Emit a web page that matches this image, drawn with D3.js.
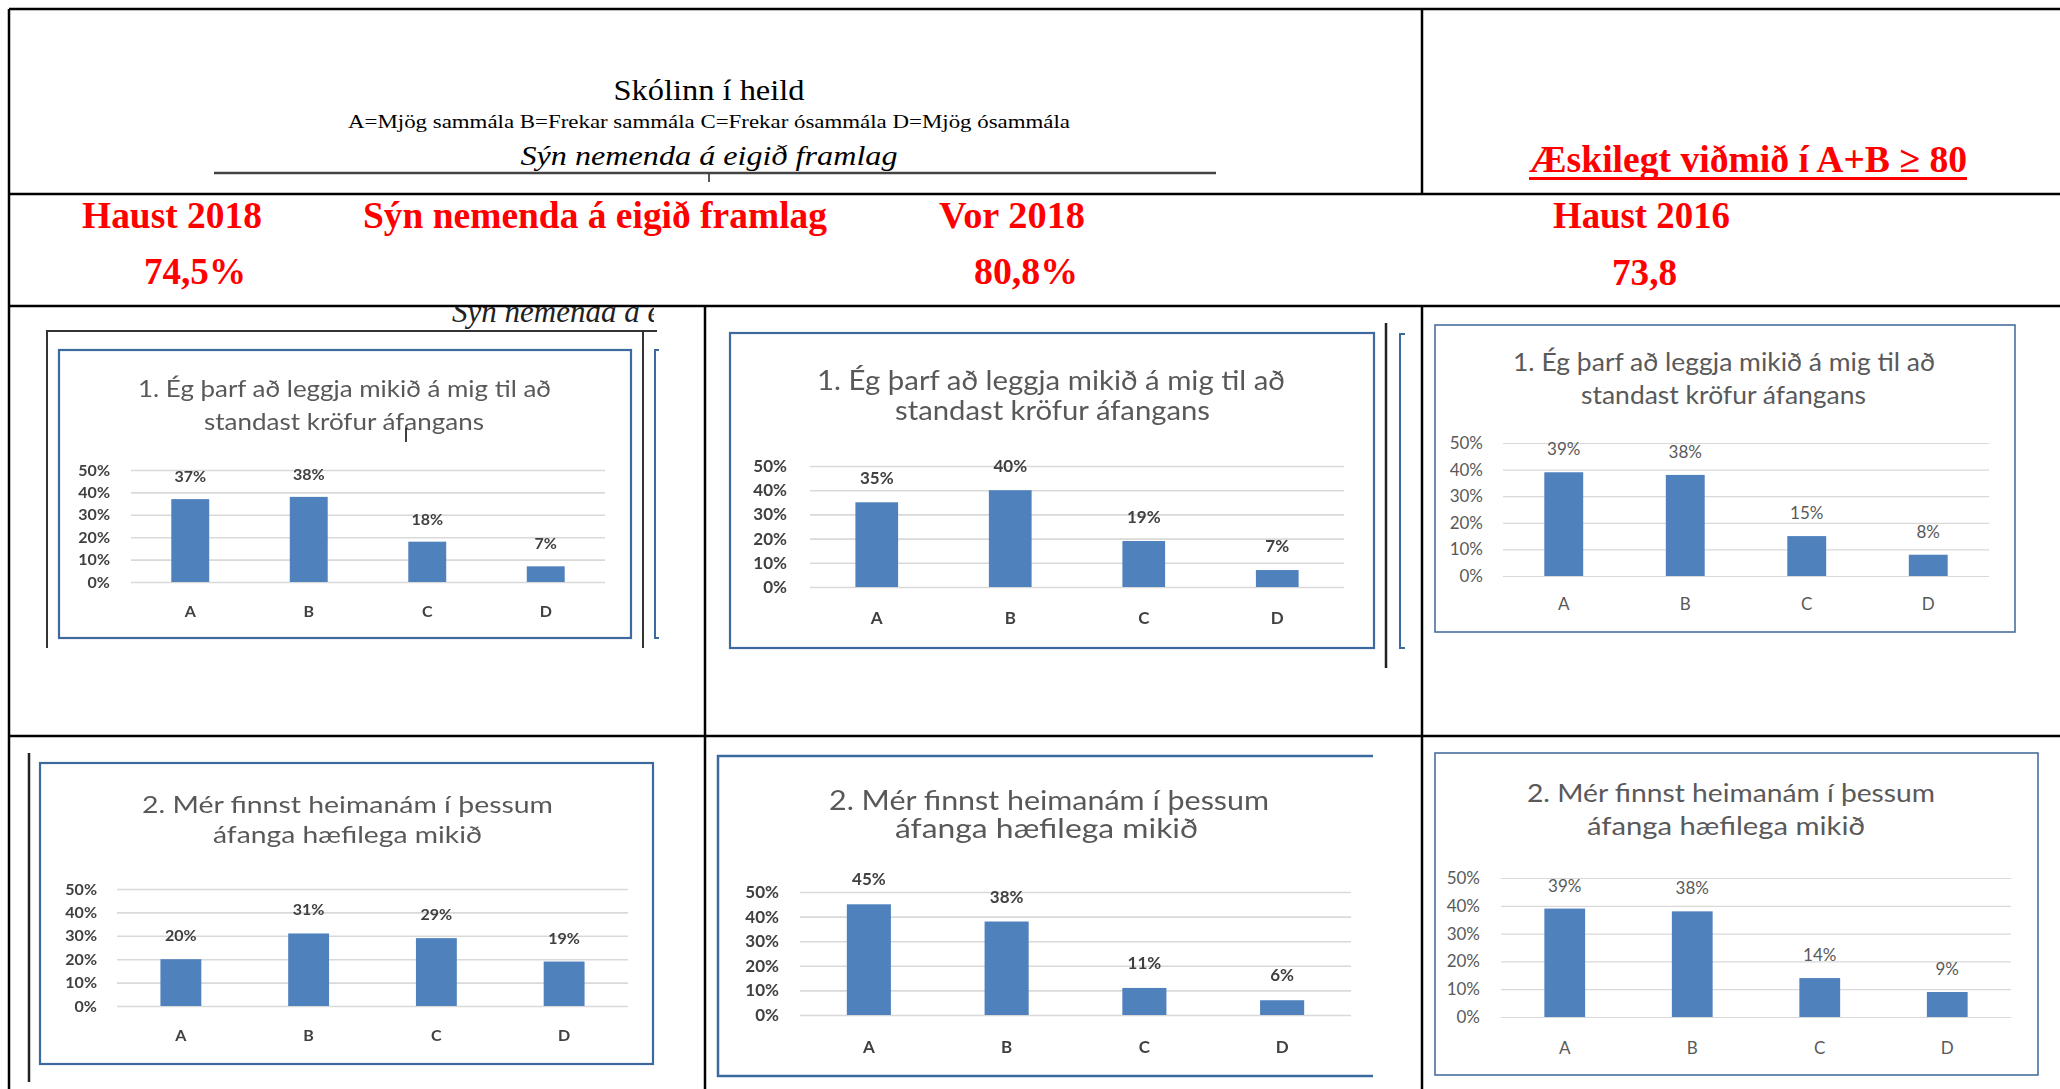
<!DOCTYPE html>
<html><head><meta charset="utf-8">
<script src="https://cdn.jsdelivr.net/npm/d3@7"></script>
<style>html,body{margin:0;padding:0;background:#fff;} svg{display:block;}</style>
</head><body>
<svg id="chart" width="2060" height="1089"></svg>
<script>
// ---------- data ----------
const categories = ["A", "B", "C", "D"];
const yTicks = [0, 10, 20, 30, 40, 50];
const q1Haust2018 = [37, 38, 18, 7];
const q1Vor2018 = [35, 40, 19, 7];
const q1Haust2016 = [39, 38, 15, 8];
const q2Haust2018 = [20, 31, 29, 19];
const q2Vor2018 = [45, 38, 11, 6];
const q2Haust2016 = [39, 38, 14, 9];
const q1Title = ["1. Ég þarf að leggja mikið á mig til að", "standast kröfur áfangans"];
const q2Title = ["2. Mér finnst heimanám í þessum", "áfanga hæfilega mikið"];
const headerTitle = "Skólinn í heild";
const headerLegend = "A=Mjög sammála B=Frekar sammála C=Frekar ósammála D=Mjög ósammála";
const headerTopic = "Sýn nemenda á eigið framlag";
const targetText = "Æskilegt viðmið í A+B ≥ 80";
const terms = ["Haust 2018", "Vor 2018", "Haust 2016"];
const termScores = ["74,5%", "80,8%", "73,8"];

// ---------- layout ----------
const svg = d3.select("#chart");
const defs = svg.append("defs");
defs.append("filter").attr("id", "soft").attr("x", "-5%").attr("y", "-5%").attr("width", "110%").attr("height", "110%")
  .append("feGaussianBlur").attr("stdDeviation", 0.45);
defs.append("clipPath").attr("id", "cutText").append("rect").attr("x", 440).attr("y", 307).attr("width", 214).attr("height", 40);

const serif = "'Liberation Serif', 'Times New Roman', serif";
const sans = "Lato, 'Open Sans', sans-serif";
const red = "#ff0000";

// table lines
const tbl = svg.append("g").attr("stroke", "#000").attr("stroke-width", 2.5);
const hLines = [[9, 9, 2060], [194, 9, 2060], [306, 9, 2060], [736, 9, 2060]];
hLines.forEach(([y, x1, x2]) => tbl.append("line").attr("x1", x1).attr("x2", x2).attr("y1", y).attr("y2", y));
const vLines = [[9, 9, 1089], [1422, 9, 194], [705, 306, 1089], [1422, 306, 1089]];
vLines.forEach(([x, y1, y2]) => tbl.append("line").attr("x1", x).attr("x2", x).attr("y1", y1).attr("y2", y2));

// header text helper
function txt(g, s, x, y, size, opts = {}) {
  const t = g.append("text").attr("x", x).attr("y", y).text(s)
    .attr("font-family", opts.family || serif).attr("font-size", size)
    .attr("fill", opts.fill || "#000")
    .attr("font-weight", opts.weight || 400)
    .attr("font-style", opts.style || "normal")
    .attr("text-anchor", opts.anchor || "start");
  if (opts.len) t.attr("textLength", opts.len).attr("lengthAdjust", "spacingAndGlyphs");
  return t;
}
const head = svg.append("g");
txt(head, headerTitle, 709, 100, 30, {anchor: "middle", len: 191});
txt(head, headerLegend, 709, 128, 19, {anchor: "middle", len: 722});
txt(head, headerTopic, 709, 165, 28, {anchor: "middle", len: 377, style: "italic"});
head.append("line").attr("x1", 214).attr("x2", 1216).attr("y1", 173).attr("y2", 173).attr("stroke", "#444").attr("stroke-width", 2.5);
head.append("line").attr("x1", 709).attr("x2", 709).attr("y1", 174).attr("y2", 182).attr("stroke", "#222").attr("stroke-width", 1.5);
txt(head, targetText, 1529, 172, 37, {fill: red, weight: 700, len: 438});
head.append("line").attr("x1", 1529).attr("x2", 1967).attr("y1", 178.5).attr("y2", 178.5).attr("stroke", red).attr("stroke-width", 3);

// red term headers
txt(head, terms[0], 82, 228, 37, {fill: red, weight: 700, len: 180});
txt(head, headerTopic, 363, 228, 37, {fill: red, weight: 700, len: 464});
txt(head, terms[1], 939, 228, 37, {fill: red, weight: 700, len: 146});
txt(head, terms[2], 1553, 228, 37, {fill: red, weight: 700, len: 177});
txt(head, termScores[0], 144, 284, 37, {fill: red, weight: 700, len: 102});
txt(head, termScores[1], 974, 284, 37, {fill: red, weight: 700, len: 104});
txt(head, termScores[2], 1612, 285, 37, {fill: red, weight: 700, len: 65});

// stray pasted-screenshot fragments
const frag = svg.append("g").attr("fill", "none");
txt(svg.append("g").attr("clip-path", "url(#cutText)"), headerTopic, 452, 322, 31, {style: "italic", fill: "#222"});
frag.append("path").attr("d", "M47,648 V331 H657").attr("stroke", "#333").attr("stroke-width", 2);
frag.append("line").attr("x1", 643).attr("x2", 643).attr("y1", 331).attr("y2", 648).attr("stroke", "#333").attr("stroke-width", 2);
frag.append("path").attr("d", "M659,350 H655 V638 H659").attr("stroke", "#3d6a9e").attr("stroke-width", 2);
frag.append("line").attr("x1", 1386).attr("x2", 1386).attr("y1", 323).attr("y2", 668).attr("stroke", "#222").attr("stroke-width", 2.5);
frag.append("path").attr("d", "M1405,334 H1400 V648 H1405").attr("stroke", "#3d6a9e").attr("stroke-width", 2);
frag.append("line").attr("x1", 29).attr("x2", 29).attr("y1", 753).attr("y2", 1082).attr("stroke", "#222").attr("stroke-width", 2.5);

// ---------- panels ----------
const panels = [
  {values: q1Haust2018, title: q1Title, kind: "soft", box: [59, 350, 631, 638], plotX: [131, 605], plotY: [582, 470],
   titles: [[344.5, 397, 413], [344, 430, 280]], titleSize: 24, tickRight: 110, labelSize: 16, gap: 17, catBase: 617, cursor: [406, 428, 442]},
  {values: q1Vor2018, title: q1Title, kind: "soft", box: [730, 333, 1374, 648], plotX: [810, 1344], plotY: [587, 466],
   titles: [[1051, 390, 468], [1052.5, 420, 315]], titleSize: 26, tickRight: 787, labelSize: 17, gap: 18, catBase: 624},
  {values: q1Haust2016, title: q1Title, kind: "crisp", box: [1435, 325, 2015, 632], plotX: [1503, 1989], plotY: [576, 443],
   titles: [[1724, 371, 422], [1723.5, 404, 285]], titleSize: 25, tickRight: 1483, labelSize: 17, gap: 17, catBase: 610},
  {values: q2Haust2018, title: q2Title, kind: "soft", box: [40, 763, 653, 1064], plotX: [117, 628], plotY: [1006, 889],
   titles: [[347.5, 813, 411], [347.5, 843, 269]], titleSize: 24, tickRight: 97, labelSize: 16, gap: 18, catBase: 1041},
  {values: q2Vor2018, title: q2Title, kind: "soft", box: [718, 756, 1373, 1076], open: true, plotX: [800, 1351], plotY: [1015, 892],
   titles: [[1049, 810, 440], [1046.5, 838, 303]], titleSize: 26, tickRight: 779, labelSize: 17, gap: 19, catBase: 1053},
  {values: q2Haust2016, title: q2Title, kind: "crisp", box: [1435, 753, 2038, 1075], plotX: [1501, 2011], plotY: [1017, 878],
   titles: [[1731, 802, 408], [1726, 835, 278]], titleSize: 25, tickRight: 1480, labelSize: 17, gap: 17, catBase: 1054}
];

panels.forEach(p => {
  const soft = p.kind === "soft";
  const g = svg.append("g");
  if (soft) g.attr("filter", "url(#soft)");
  const textCol = soft ? "#404040" : "#595959";
  const [bx1, by1, bx2, by2] = p.box;
  // frame
  if (p.open) {
    g.append("path").attr("d", `M${bx2},${by1} H${bx1} V${by2} H${bx2}`).attr("fill", "none")
      .attr("stroke", "#3d6a9e").attr("stroke-width", 2.5);
  } else {
    g.append("rect").attr("x", bx1).attr("y", by1).attr("width", bx2 - bx1).attr("height", by2 - by1)
      .attr("fill", "none").attr("stroke", soft ? "#3d6a9e" : "#4a6f9e").attr("stroke-width", soft ? 2.2 : 1.6);
  }
  // title
  p.title.forEach((line, i) => {
    const [cx, by, len] = p.titles[i];
    g.append("text").attr("x", cx).attr("y", by).text(line)
      .attr("font-family", sans).attr("font-size", p.titleSize).attr("fill", "#595959")
      .attr("text-anchor", "middle").attr("textLength", len).attr("lengthAdjust", "spacingAndGlyphs");
  });
  if (p.cursor) {
    g.append("line").attr("x1", p.cursor[0]).attr("x2", p.cursor[0]).attr("y1", p.cursor[1]).attr("y2", p.cursor[2])
      .attr("stroke", "#000").attr("stroke-width", 1.5);
  }
  // scales
  const x = d3.scaleBand().domain(categories).range(p.plotX).paddingInner(0.68).paddingOuter(0.34);
  const y = d3.scaleLinear().domain([0, 50]).range(p.plotY);
  // y axis with gridlines
  const yAxis = d3.axisLeft(y).tickValues(yTicks).tickFormat(d => d + "%")
    .tickSize(-(p.plotX[1] - p.plotX[0])).tickPadding(p.plotX[0] - p.tickRight);
  const ya = g.append("g").attr("transform", `translate(${p.plotX[0]},0)`).call(yAxis);
  ya.select(".domain").remove();
  ya.selectAll(".tick line").attr("stroke", "#d9d9d9").attr("stroke-width", soft ? 1.6 : 1.2);
  ya.selectAll(".tick text").attr("font-family", sans).attr("font-size", p.labelSize)
    .attr("font-weight", soft ? 700 : 400).attr("fill", textCol);
  // bars
  g.append("g").selectAll("rect").data(p.values).join("rect")
    .attr("x", (d, i) => x(categories[i])).attr("width", x.bandwidth())
    .attr("y", d => y(d)).attr("height", d => y(0) - y(d)).attr("fill", "#4f81bd");
  // value labels
  g.append("g").selectAll("text").data(p.values).join("text")
    .attr("x", (d, i) => x(categories[i]) + x.bandwidth() / 2).attr("y", d => y(d) - p.gap)
    .attr("text-anchor", "middle").text(d => d + "%")
    .attr("font-family", sans).attr("font-size", p.labelSize).attr("font-weight", soft ? 700 : 400).attr("fill", textCol);
  // x axis labels
  const xAxis = d3.axisBottom(x).tickSize(0).tickPadding(0);
  const xa = g.append("g").attr("transform", `translate(0,${p.plotY[0]})`).call(xAxis);
  xa.select(".domain").remove();
  xa.selectAll(".tick text").attr("y", p.catBase - p.plotY[0]).attr("dy", null)
    .attr("font-family", sans).attr("font-size", p.labelSize).attr("font-weight", soft ? 700 : 400).attr("fill", textCol);
});
</script>
</body></html>
